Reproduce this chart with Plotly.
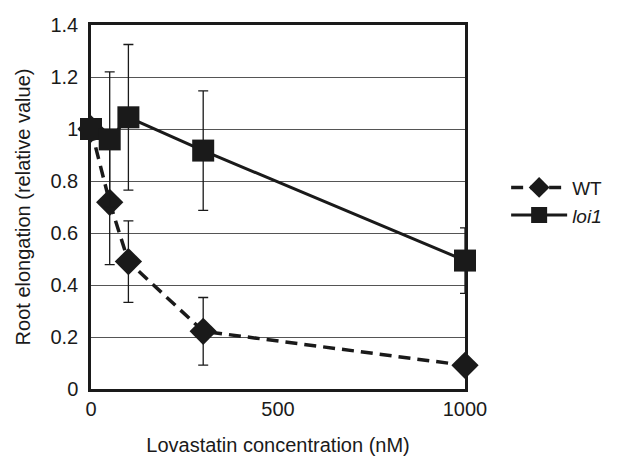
import plotly.graph_objects as go

# Data
conc = [0, 50, 100, 300, 1000]
wt_values = [1.0, 0.718, 0.49, 0.222, 0.091]
wt_err = [0.0, 0.24, 0.157, 0.13, 0.0]
loi1_values = [1.0, 0.96, 1.045, 0.917, 0.494]
loi1_err = [0.0, 0.26, 0.28, 0.23, 0.126]
y_ticks = [0, 0.2, 0.4, 0.6, 0.8, 1, 1.2, 1.4]
y_tick_labels = ["0", "0.2", "0.4", "0.6", "0.8", "1", "1.2", "1.4"]
x_ticks = [0, 500, 1000]

FONT = "Liberation Sans, Arial, Helvetica, sans-serif"
INK = "#1a1a1a"

fig = go.Figure()
fig.add_trace(go.Scatter(
    x=conc, y=wt_values, name="WT", mode="lines+markers", cliponaxis=False,
    line=dict(color=INK, width=3.5, dash="12px,7px"),
    marker=dict(symbol="diamond", size=21, color=INK),
    error_y=dict(type="data", array=wt_err, visible=True, color=INK, thickness=1.3, width=5),
))
fig.add_trace(go.Scatter(
    x=conc, y=loi1_values, name="<i>loi1</i>", mode="lines+markers", cliponaxis=False,
    line=dict(color=INK, width=3),
    marker=dict(symbol="square", size=22, color=INK),
    error_y=dict(type="data", array=loi1_err, visible=True, color=INK, thickness=1.3, width=5),
))

# page body adds an 8px offset, so the figure is 8px smaller on each axis
fig.update_layout(
    width=611, height=448,
    margin=dict(l=83, r=152, t=17, b=67),
    paper_bgcolor="white", plot_bgcolor="white",
    font=dict(family=FONT, size=20, color=INK),
    legend=dict(x=1.11, y=0.515, xanchor="left", yanchor="middle", itemwidth=56,
                font=dict(size=19), bgcolor="rgba(0,0,0,0)", tracegroupgap=0),
)
fig.update_xaxes(
    range=[0, 1000], tickvals=x_ticks, showgrid=False, zeroline=False,
    showline=True, mirror=True, linecolor=INK, linewidth=2.5,
    ticks="", ticklabelstandoff=0,
    title=dict(text="Lovastatin concentration (nM)", standoff=38, font=dict(size=20)),
    automargin=False,
)
fig.update_yaxes(
    range=[0, 1.4], tickvals=y_ticks, ticktext=y_tick_labels,
    showgrid=True, gridcolor="#555", gridwidth=1, zeroline=False,
    showline=True, mirror=True, linecolor=INK, linewidth=2.5,
    ticks="", ticklabelstandoff=6,
    title=dict(text="Root elongation (relative value)", standoff=15, font=dict(size=20)),
    automargin=False,
)

fig.write_html("out.html")
